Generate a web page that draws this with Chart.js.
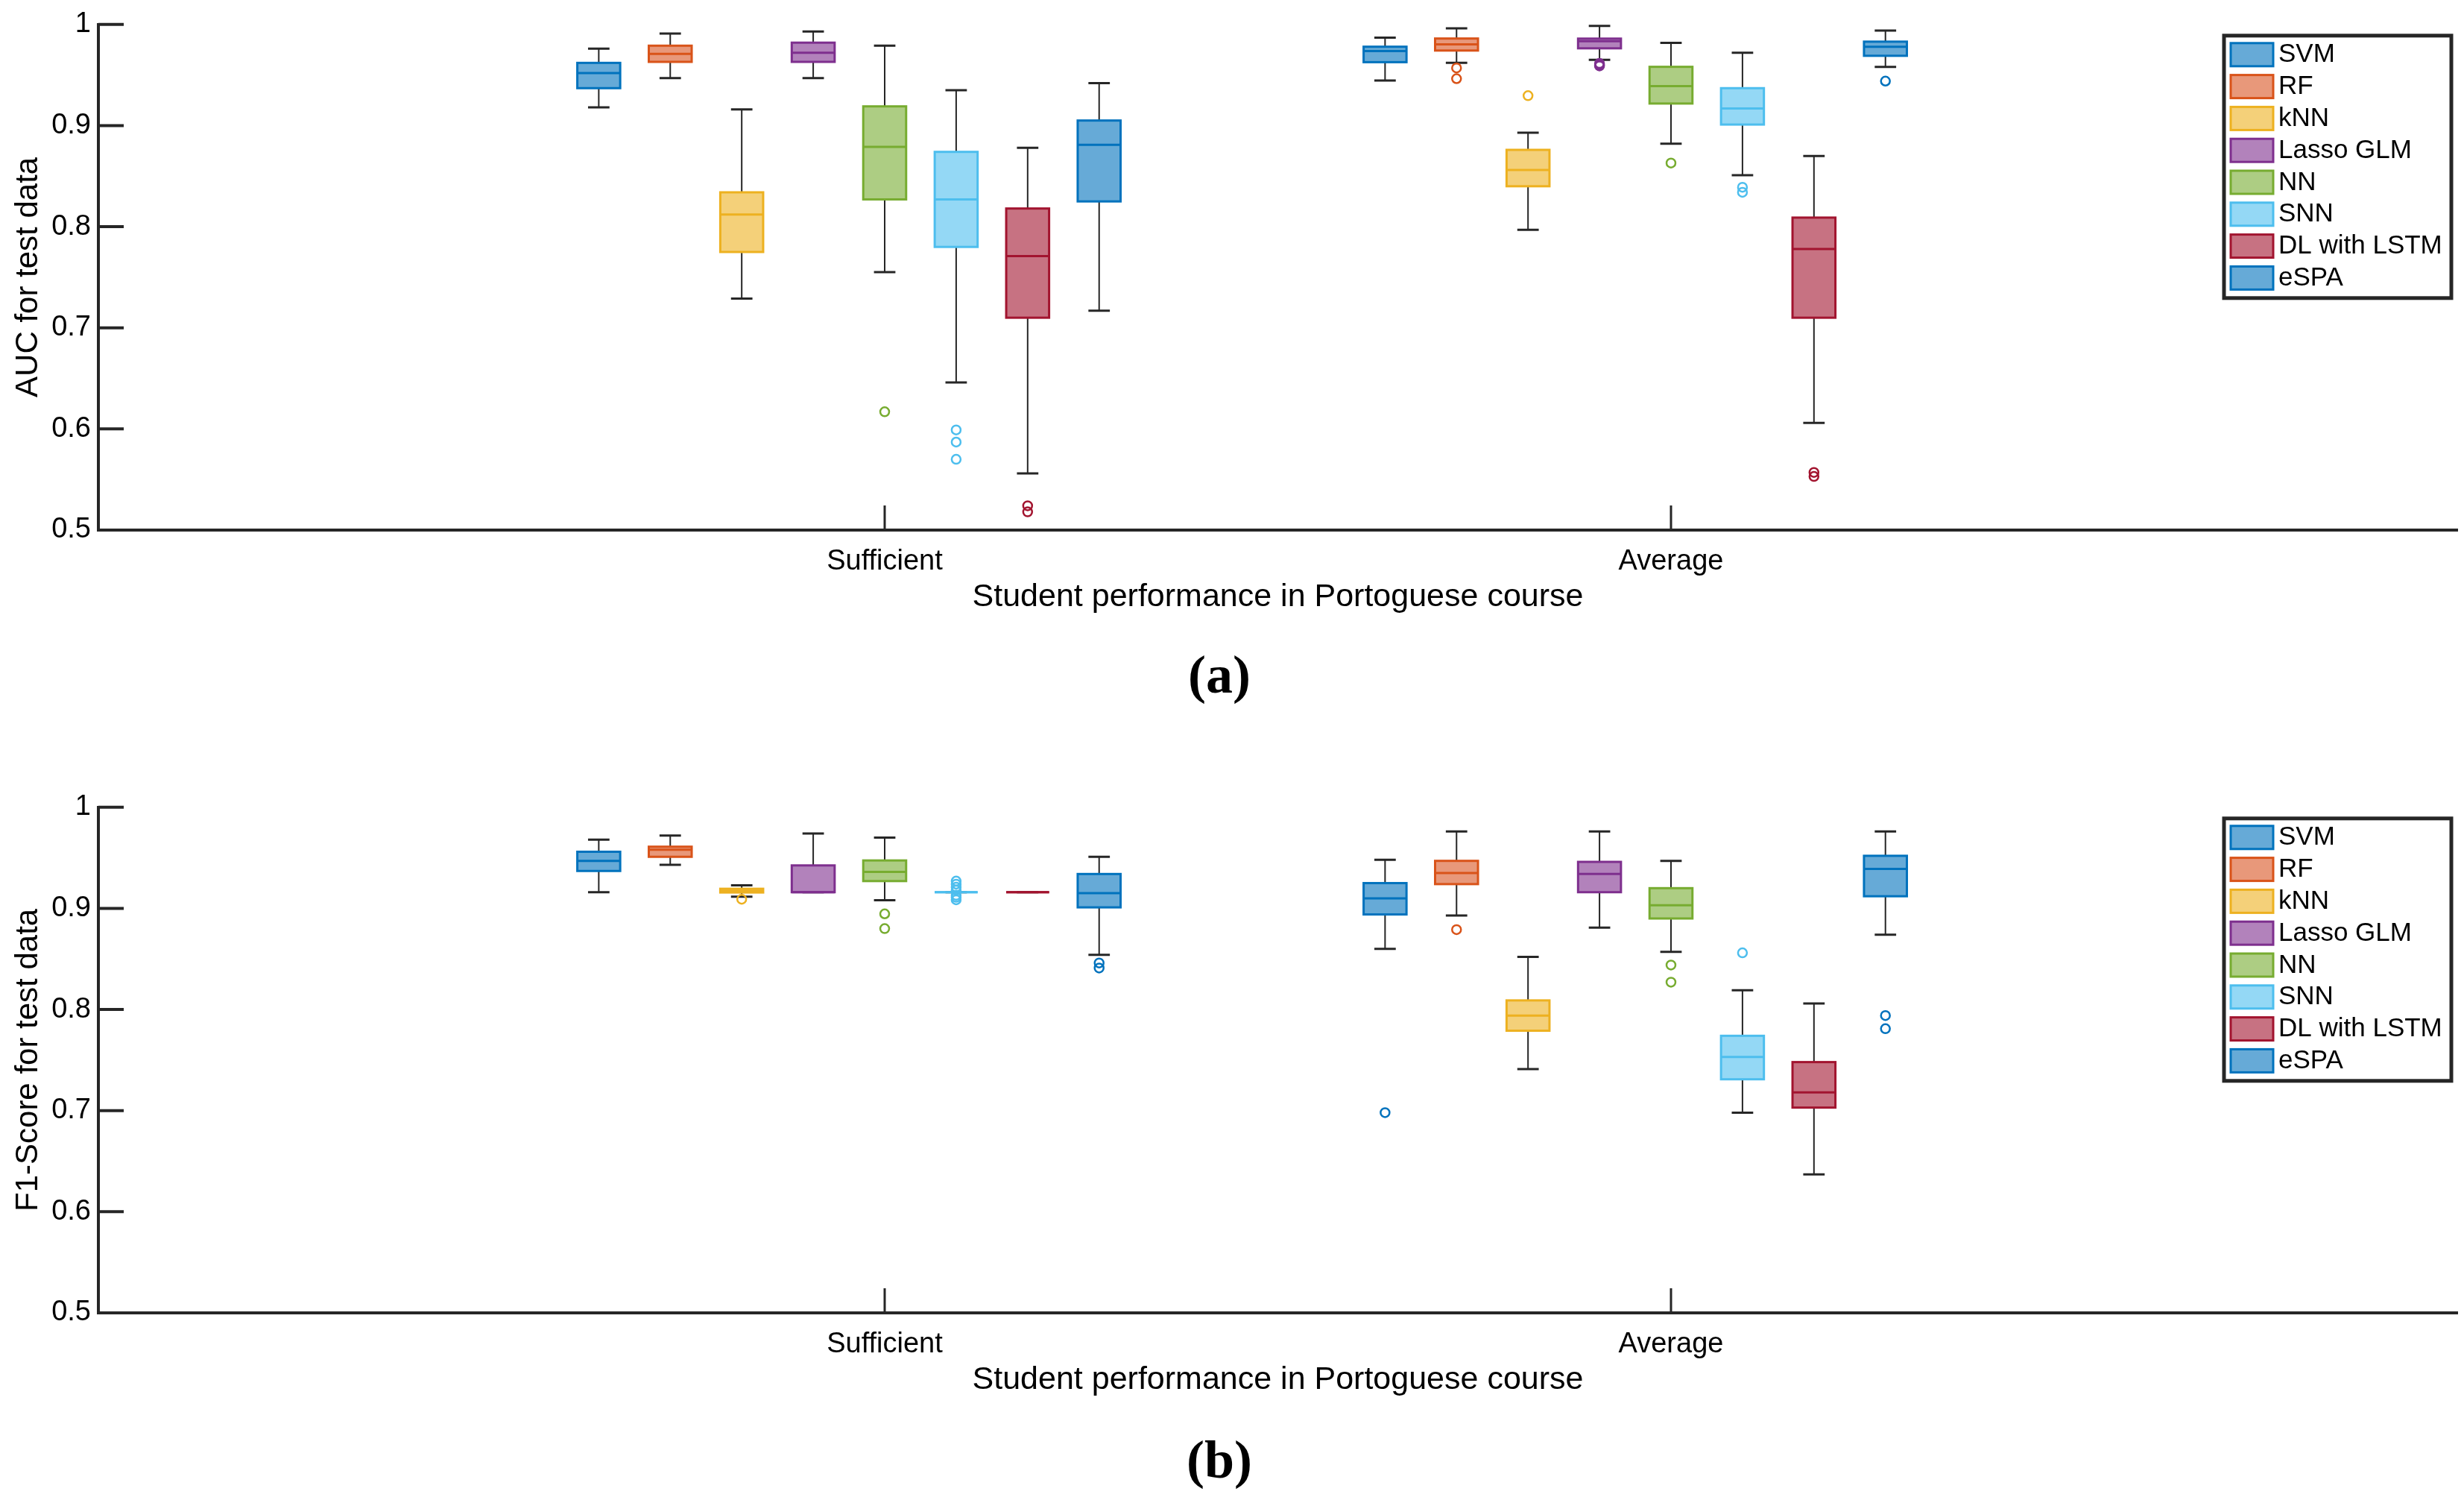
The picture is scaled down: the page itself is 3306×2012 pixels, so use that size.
<!DOCTYPE html>
<html>
<head>
<meta charset="utf-8">
<script src="https://cdn.jsdelivr.net/npm/chart.js@4.4.1/dist/chart.umd.min.js"></script>
<style>
    body { margin: 0; background: #fff; width: 3306px; height: 2012px; position: relative; overflow: hidden; }
    canvas { position: absolute; left: 0; }
    #chartA { top: 0; }
    #chartB { top: 1050px; }
    .caption { position: absolute; width: 200px; margin-left: -100px; text-align: center; line-height: 72px;
               font-family: 'Liberation Serif', 'DejaVu Serif', serif; font-weight: bold; font-size: 72px; color: #000; }
</style>
</head>
<body>
<canvas id="chartA" width="3306" height="850"></canvas>
<canvas id="chartB" width="3306" height="850"></canvas>
<div class="caption" style="left:1636px; top:869px;">(a)</div>
<div class="caption" style="left:1636px; top:1922px;">(b)</div>
<script>
const groups = ['Sufficient', 'Average'];
const models = ['SVM', 'RF', 'kNN', 'Lasso GLM', 'NN', 'SNN', 'DL with LSTM', 'eSPA'];
const edgeColors = ['#0072BD', '#D95319', '#EDB120', '#7E2F8E', '#77AC30', '#4DBEEE', '#A2142F', '#0072BD'];
const fillColors = ['#66AAD7', '#E8987A', '#F4D079', '#B282BB', '#ADCD83', '#94D8F5', '#C77282', '#66AAD7'];
const yTicks = [0.5, 0.6, 0.7, 0.8, 0.9, 1];

// box stats per model: [lower whisker, q1, median, q3, upper whisker]
const aucSufficient = [
    [0.918, 0.937, 0.952, 0.962, 0.976],
    [0.947, 0.963, 0.971, 0.979, 0.991],
    [0.729, 0.775, 0.812, 0.834, 0.916],
    [0.947, 0.963, 0.972, 0.982, 0.993],
    [0.755, 0.827, 0.879, 0.919, 0.979],
    [0.646, 0.780, 0.827, 0.874, 0.935],
    [0.556, 0.710, 0.771, 0.818, 0.878],
    [0.717, 0.825, 0.881, 0.905, 0.942]
];
const aucAverage = [
    [0.9445, 0.9627, 0.9737, 0.978, 0.9869],
    [0.962, 0.9742, 0.9803, 0.9861, 0.9961],
    [0.797, 0.840, 0.856, 0.876, 0.893],
    [0.965, 0.9764, 0.9835, 0.986, 0.9985],
    [0.882, 0.9218, 0.9391, 0.9581, 0.9817],
    [0.851, 0.901, 0.917, 0.937, 0.972],
    [0.606, 0.710, 0.778, 0.809, 0.870],
    [0.958, 0.969, 0.978, 0.983, 0.994]
];
const aucOutSufficient = [[], [], [], [], [0.617], [0.599, 0.587, 0.570], [0.524, 0.518], []];
const aucOutAverage = [[], [0.957, 0.9464], [0.9296], [0.9615, 0.960, 0.959], [0.863], [0.839, 0.834], [0.557, 0.553], [0.944]];

const f1Sufficient = [
    [0.916, 0.937, 0.947, 0.956, 0.968],
    [0.943, 0.951, 0.958, 0.961, 0.972],
    [0.9116, 0.9157, 0.9175, 0.9194, 0.9228],
    [0.916, 0.916, 0.916, 0.9425, 0.974],
    [0.908, 0.927, 0.936, 0.9474, 0.970],
    [0.916, 0.916, 0.916, 0.916, 0.916],
    [0.916, 0.916, 0.916, 0.916, 0.916],
    [0.854, 0.901, 0.915, 0.934, 0.951]
];
const f1Average = [
    [0.860, 0.894, 0.910, 0.925, 0.948],
    [0.893, 0.924, 0.935, 0.947, 0.976],
    [0.741, 0.779, 0.794, 0.809, 0.852],
    [0.881, 0.916, 0.934, 0.946, 0.976],
    [0.857, 0.890, 0.903, 0.920, 0.947],
    [0.698, 0.731, 0.753, 0.774, 0.819],
    [0.637, 0.703, 0.718, 0.748, 0.806],
    [0.874, 0.912, 0.939, 0.952, 0.976]
];
const f1OutSufficient = [[], [], [0.909], [], [0.8946, 0.880], [0.927, 0.924, 0.921, 0.918, 0.913, 0.911, 0.9085], [], [0.846, 0.841]];
const f1OutAverage = [[0.698], [0.879], [], [], [0.844, 0.827], [0.856], [], [0.794, 0.781]];

const AXIS_COLOR = '#262626';
const FONT = "'Liberation Sans', Arial, Helvetica, sans-serif";

// x position of a model's box inside a group
function boxX(g, i) {
    return g + 1 + (i - 4) / 11;
}

const boxPlugin = {
    id: 'boxes',
    beforeDatasetsDraw(chart) {
        const stats = chart.options.plugins.boxes.stats;
        const {ctx, scales: {x, y}} = chart;
        const hw = 0.6 / 22;
        ctx.save();
        stats.forEach((groupStats, g) => {
            groupStats.forEach((s, i) => {
                const cx = x.getPixelForValue(boxX(g, i));
                const x0 = x.getPixelForValue(boxX(g, i) - hw);
                const x1 = x.getPixelForValue(boxX(g, i) + hw);
                const capW = (x1 - x0) / 4;
                const [lo, q1, med, q3, hi] = s.map(v => y.getPixelForValue(v));
                // whiskers
                ctx.strokeStyle = AXIS_COLOR;
                ctx.lineWidth = 2;
                ctx.beginPath();
                ctx.moveTo(cx, q3); ctx.lineTo(cx, hi);
                ctx.moveTo(cx, q1); ctx.lineTo(cx, lo);
                ctx.stroke();
                ctx.lineWidth = 3;
                ctx.beginPath();
                ctx.moveTo(cx - capW, hi); ctx.lineTo(cx + capW, hi);
                ctx.moveTo(cx - capW, lo); ctx.lineTo(cx + capW, lo);
                ctx.stroke();
                // box
                ctx.fillStyle = fillColors[i];
                ctx.fillRect(x0, q3, x1 - x0, q1 - q3);
                ctx.strokeStyle = edgeColors[i];
                ctx.lineWidth = 3;
                ctx.strokeRect(x0, q3, x1 - x0, q1 - q3);
                // median
                ctx.beginPath();
                ctx.moveTo(x0, med); ctx.lineTo(x1, med);
                ctx.stroke();
            });
        });
        ctx.restore();
    },
    afterDraw(chart) {
        const {ctx, chartArea, scales: {x, y}} = chart;
        ctx.save();
        // inward ticks
        ctx.strokeStyle = AXIS_COLOR;
        ctx.lineWidth = 4;
        ctx.beginPath();
        yTicks.forEach(v => {
            const py = y.getPixelForValue(v);
            ctx.moveTo(chartArea.left, py); ctx.lineTo(chartArea.left + 34, py);
        });
        ctx.stroke();
        ctx.lineWidth = 3;
        ctx.beginPath();
        groups.forEach((_, g) => {
            const px = x.getPixelForValue(g + 1);
            ctx.moveTo(px, chartArea.bottom); ctx.lineTo(px, chartArea.bottom - 33);
        });
        ctx.stroke();

        // legend box
        const lx = 2984, ly = chartArea.top + 15, lw = 305, lh = 352, pitch = 42.8;
        ctx.fillStyle = '#fff';
        ctx.fillRect(lx, ly, lw, lh);
        ctx.lineWidth = 5;
        ctx.strokeStyle = AXIS_COLOR;
        ctx.strokeRect(lx, ly, lw, lh);
        ctx.font = '35px ' + FONT;
        ctx.textBaseline = 'middle';
        models.forEach((m, i) => {
            const cy = ly + 25 + i * pitch;
            ctx.fillStyle = fillColors[i];
            ctx.fillRect(lx + 9, cy - 15, 57, 31);
            ctx.strokeStyle = edgeColors[i];
            ctx.lineWidth = 3;
            ctx.strokeRect(lx + 9, cy - 15, 57, 31);
            ctx.fillStyle = '#000';
            ctx.fillText(m, lx + 73, cy + 1);
        });
        ctx.restore();
    }
};

function outlierData(outSets) {
    return models.map((m, i) => {
        const pts = [];
        outSets.forEach((set, g) => set[i].forEach(v => pts.push({x: boxX(g, i), y: v})));
        return {
            label: m,
            data: pts,
            pointStyle: 'circle',
            pointRadius: 6,
            pointBorderWidth: 2.5,
            pointBackgroundColor: 'rgba(0,0,0,0)',
            pointBorderColor: edgeColors[i]
        };
    });
}

function makeChart(id, yTitle, stats, outSets) {
    const H = 850;
    return new Chart(document.getElementById(id), {
        type: 'scatter',
        data: { datasets: outlierData(outSets) },
        options: {
            responsive: false,
            animation: false,
            devicePixelRatio: 1,
            layout: { padding: { left: 0, top: 27, right: 9, bottom: 0 } },
            plugins: {
                legend: { display: false },
                tooltip: { enabled: false },
                boxes: { stats: stats }
            },
            scales: {
                x: {
                    type: 'linear',
                    min: 0, max: 3,
                    afterFit: s => { s.height = H - 711; },
                    afterBuildTicks: s => { s.ticks = groups.map((_, g) => ({value: g + 1})); },
                    grid: { display: false, drawTicks: false },
                    border: { display: true, width: 4, color: AXIS_COLOR },
                    ticks: {
                        padding: 20,
                        color: '#000',
                        font: { family: FONT, size: 38 },
                        maxRotation: 0,
                        autoSkip: false,
                        callback: v => groups[v - 1] || ''
                    },
                    title: {
                        display: true,
                        text: 'Student performance in Portoguese course',
                        color: '#000',
                        font: { family: FONT, size: 43 },
                        padding: { top: 0, bottom: 23 }
                    }
                },
                y: {
                    min: 0.5, max: 1,
                    afterFit: s => { s.width = 132; },
                    afterBuildTicks: s => { s.ticks = yTicks.map(v => ({value: v})); },
                    grid: { display: false, drawTicks: false },
                    border: { display: true, width: 4, color: AXIS_COLOR },
                    ticks: {
                        padding: 10,
                        color: '#000',
                        font: { family: FONT, size: 38 },
                        callback: v => v === 1 ? '1' : v.toFixed(1)
                    },
                    title: {
                        display: true,
                        text: yTitle,
                        color: '#000',
                        font: { family: FONT, size: 42 },
                        padding: { top: 13, bottom: 0 }
                    }
                }
            }
        },
        plugins: [boxPlugin]
    });
}

makeChart('chartA', 'AUC for test data', [aucSufficient, aucAverage], [aucOutSufficient, aucOutAverage]);
makeChart('chartB', 'F1-Score for test data', [f1Sufficient, f1Average], [f1OutSufficient, f1OutAverage]);
</script>
</body>
</html>
